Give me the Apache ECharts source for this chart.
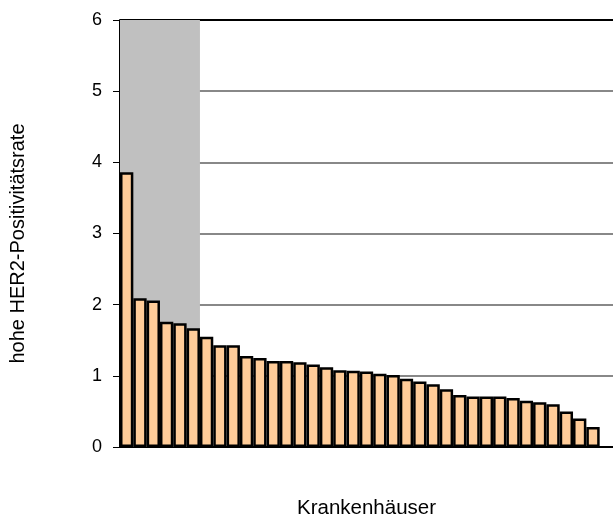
<!DOCTYPE html>
<html>
<head>
<meta charset="utf-8">
<script src="https://cdn.jsdelivr.net/npm/echarts@6/dist/echarts.min.js"></script>
<style>html,body{margin:0;padding:0;background:#fff}#c{width:613px;height:518px}</style>
</head>
<body>
<div id="c"></div>
<script>
var hospitals = [];
for (var i = 1; i <= 37; i++) hospitals.push(String(i));
var rates = [3.86, 2.09, 2.06, 1.76, 1.74, 1.67, 1.55, 1.43, 1.43, 1.28, 1.25, 1.21,
  1.21, 1.19, 1.16, 1.12, 1.08, 1.07, 1.06, 1.03, 1.01, 0.96, 0.92, 0.88,
  0.81, 0.73, 0.71, 0.71, 0.71, 0.69, 0.65, 0.63, 0.60, 0.50, 0.40, 0.28];
// shaded block: first hospital index, last hospital index, top value
var shadedFrom = 0, shadedTo = 5, shadedTop = 6;
var yTicks = [0, 1, 2, 3, 4, 5, 6];

var chart = echarts.init(document.getElementById('c'));
chart.setOption({
  animation: false,
  grid: {left: 120, top: 20, right: 0, bottom: 71, outerBoundsMode: 'none', containLabel: false},
  xAxis: {
    type: 'category', data: hospitals, boundaryGap: true,
    name: 'Krankenhäuser', nameLocation: 'middle', nameGap: 51,
    nameTextStyle: {fontFamily: 'Liberation Sans', fontSize: 20.5, color: '#000'},
    axisLine: {lineStyle: {color: '#000', width: 2}},
    axisTick: {show: false}, axisLabel: {show: false}
  },
  yAxis: {
    type: 'value', min: yTicks[0], max: yTicks[yTicks.length - 1], interval: 1,
    name: 'hohe HER2-Positivitätsrate', nameLocation: 'middle', nameGap: 92,
    nameTextStyle: {fontFamily: 'Liberation Sans', fontSize: 20, color: '#000', padding: [0, 20, 0, 0]},
    axisLine: {show: true, lineStyle: {color: '#000', width: 2}},
    axisTick: {show: true, length: 7, lineStyle: {color: '#000', width: 1}},
    axisLabel: {fontFamily: 'Liberation Sans', fontSize: 18, color: '#000', margin: 18},
    splitLine: {show: true, lineStyle: {color: ['#888', '#888', '#888', '#888', '#888', '#888', '#000'], width: 2}}
  },
  series: [
    {type: 'custom', silent: true, z: 1,
     data: [[shadedFrom, shadedTo, shadedTop]],
     renderItem: function (params, api) {
       var p0 = api.coord([api.value(0), 0]);
       var p1 = api.coord([api.value(1), api.value(2)]);
       var band = api.size([1, 0])[0];
       return {type: 'rect',
         shape: {x: p0[0] - band / 2, y: p1[1], width: p1[0] - p0[0] + band, height: p0[1] - p1[1]},
         style: {fill: '#C0C0C0'}};
     }},
    {type: 'bar', data: rates, barCategoryGap: 0,
     itemStyle: {color: '#FFCC99', borderColor: '#000', borderWidth: 2.5}, z: 2}
  ]
});
</script>
</body>
</html>
